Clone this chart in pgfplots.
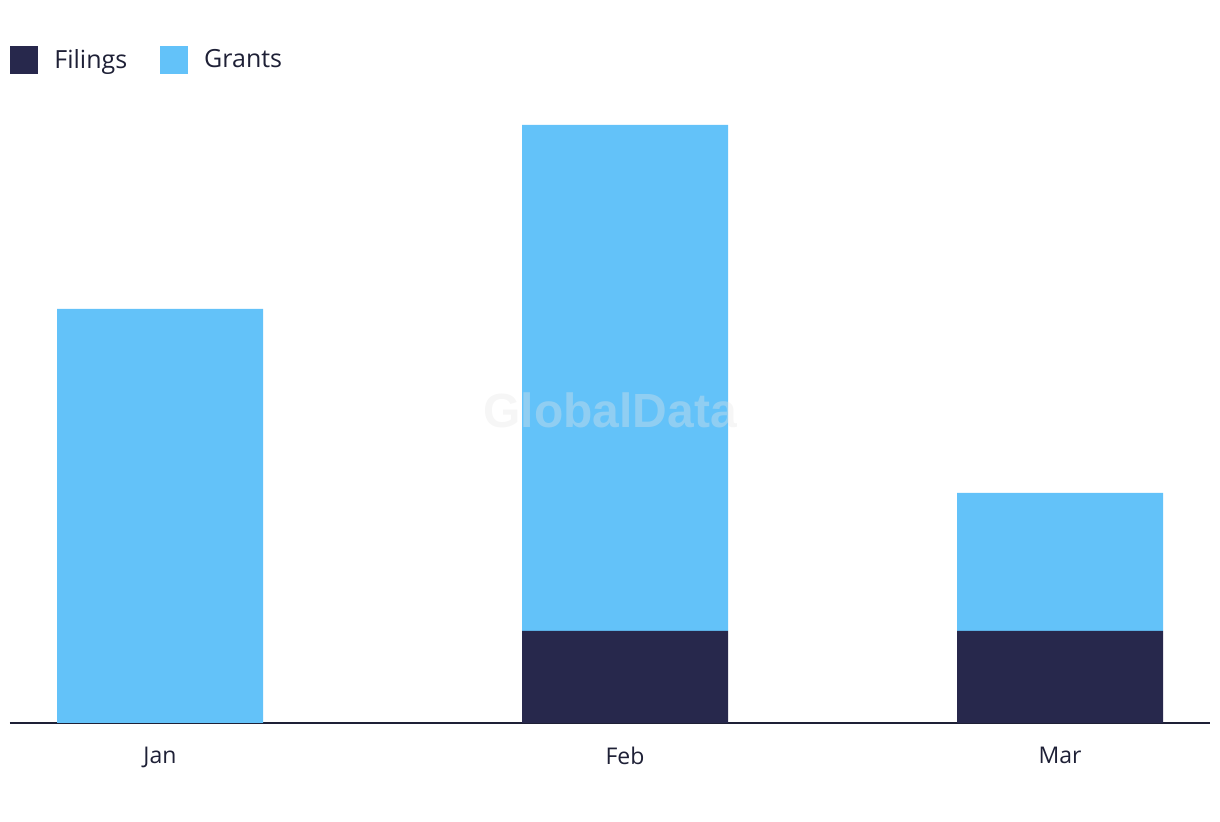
\documentclass[border=0pt]{standalone}
\usepackage{fontspec}
\setmainfont{Open Sans}
\newfontfamily\wmfont{Liberation Sans}
\usepackage{pgfplots}
\pgfplotsset{compat=1.18}
\definecolor{filings}{HTML}{27284C}
\definecolor{grants}{HTML}{63C2F9}
\definecolor{txt}{HTML}{1E2036}
\begin{document}
\begin{tikzpicture}
\begin{axis}[
  at={(0pt,0pt)}, anchor=origin,
  scale only axis,
  x=0.5pt, y=23pt,
  xmin=10, xmax=1210,
  ymin=0, ymax=14,
  ybar stacked,
  bar width=206,
  axis x line*=bottom,
  axis y line=none,
  x axis line style={line width=1pt, draw=txt, -},
  xtick={160,625,1060},
  xticklabels={Jan,Feb,Mar},
  major tick length=0pt,
  ytick=\empty,
  xticklabel style={font=\fontsize{11.5}{13}\selectfont, text=txt, yshift=-8.5pt},
  legend columns=2,
  legend style={at={(0,1.053)}, anchor=north west, draw=none, fill=none,
    inner sep=0pt, font=\fontsize{12.5}{14}\selectfont, text=txt,
    /tikz/every even column/.append style={column sep=14.5pt}},
  legend image code/.code={\fill[#1] (0pt,-7pt) rectangle (14pt,7pt);},
  legend cell align=left,
  clip=false,
]
\addplot+[draw=none, fill=filings] coordinates {(160,0) (625,2) (1060,2)};
\addlegendentry{\hspace{6pt}Filings}
\addplot+[draw=none, fill=grants] coordinates {(160,9) (625,11) (1060,3)};
\addlegendentry{\hspace{6pt}Grants}
\end{axis}
\node[font=\wmfont\bfseries\fontsize{24}{26}\selectfont, text=gray!20, opacity=0.35]
  at (300pt,156.5pt) {GlobalData};
\path[use as bounding box] (-5pt,-49.5pt) rectangle (605pt,361.5pt);
\end{tikzpicture}
\end{document}
